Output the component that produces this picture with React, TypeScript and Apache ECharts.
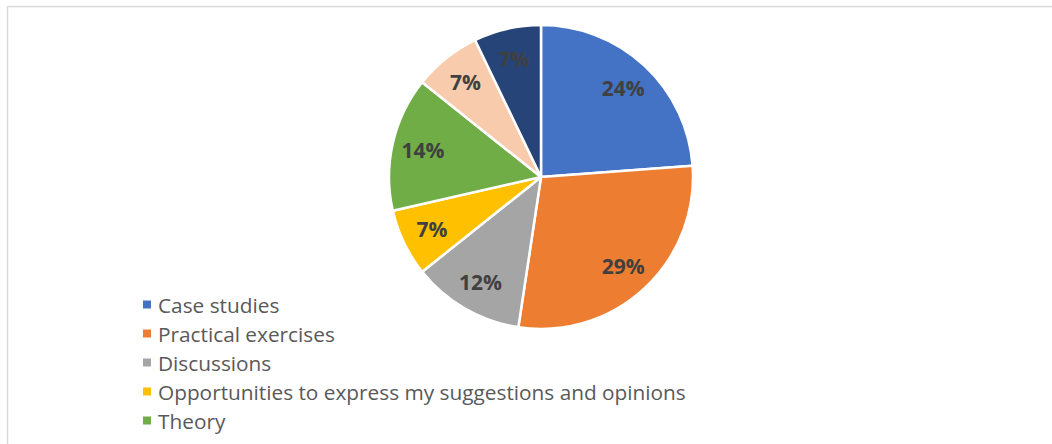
import React, { useEffect, useRef } from "react";
import * as echarts from "echarts";

const categories = [
  "Case studies",
  "Practical exercises",
  "Discussions",
  "Opportunities to express my suggestions and opinions",
  "Theory",
  "Group work",
  "Other",
];
const values = [10, 12, 5, 3, 6, 3, 3];
const colors = ["#4472C4", "#ED7D31", "#A5A5A5", "#FFC000", "#70AD47", "#F8CBAD", "#264478"];
const legendItems = categories.slice(0, 5);

export default function App() {
  const ref = useRef<HTMLDivElement>(null);
  useEffect(() => {
    if (!ref.current) return;
    const chart = echarts.init(ref.current, undefined, { renderer: "svg" });
    const data = categories.map((name, i) => ({
      name,
      value: values[i],
      itemStyle: { color: colors[i] },
    }));
    const total = values.reduce((a, b) => a + b, 0);
    chart.setOption({
      animation: false,
      backgroundColor: "#ffffff",
      graphic: [
        {
          type: "rect",
          shape: { x: 7.5, y: 6.5, width: 1200, height: 600 },
          style: { fill: "none", stroke: "#D9D9D9", lineWidth: 1.5 },
          silent: true,
        },
      ],
      legend: {
        data: legendItems,
        orient: "vertical",
        left: 138,
        top: 289,
        icon: "rect",
        itemWidth: 8,
        itemHeight: 8,
        itemGap: 8,
        itemStyle: { borderWidth: 0 },
        textStyle: {
          fontFamily: "Open Sans",
          fontSize: 20.8,
          lineHeight: 21,
          color: "#595959",
          padding: [0, 0, 0, 2],
        },
      },
      series: [
        {
          type: "pie",
          center: [541, 177],
          radius: [0, 152],
          startAngle: 90,
          clockwise: true,
          silent: true,
          data,
          itemStyle: { borderColor: "#ffffff", borderWidth: 2.5 },
          label: { show: false },
          labelLine: { show: false },
        },
        {
          type: "pie",
          center: [541, 177],
          radius: [84, 152],
          startAngle: 90,
          clockwise: true,
          silent: true,
          data: categories.map((name, i) => ({ name, value: values[i] })),
          itemStyle: { color: "transparent", borderWidth: 0 },
          label: {
            show: true,
            position: "inside",
            formatter: (p: any) => Math.round((p.value / total) * 100) + "%",
            fontFamily: "Open Sans",
            fontWeight: "bold",
            fontSize: 21,
            color: "#404040",
          },
          labelLine: { show: false },
        },
      ],
    });
    return () => chart.dispose();
  }, []);
  return (
    <div
      ref={ref}
      style={{ position: "fixed", left: 0, top: 0, width: 1052, height: 444 }}
    />
  );
}
